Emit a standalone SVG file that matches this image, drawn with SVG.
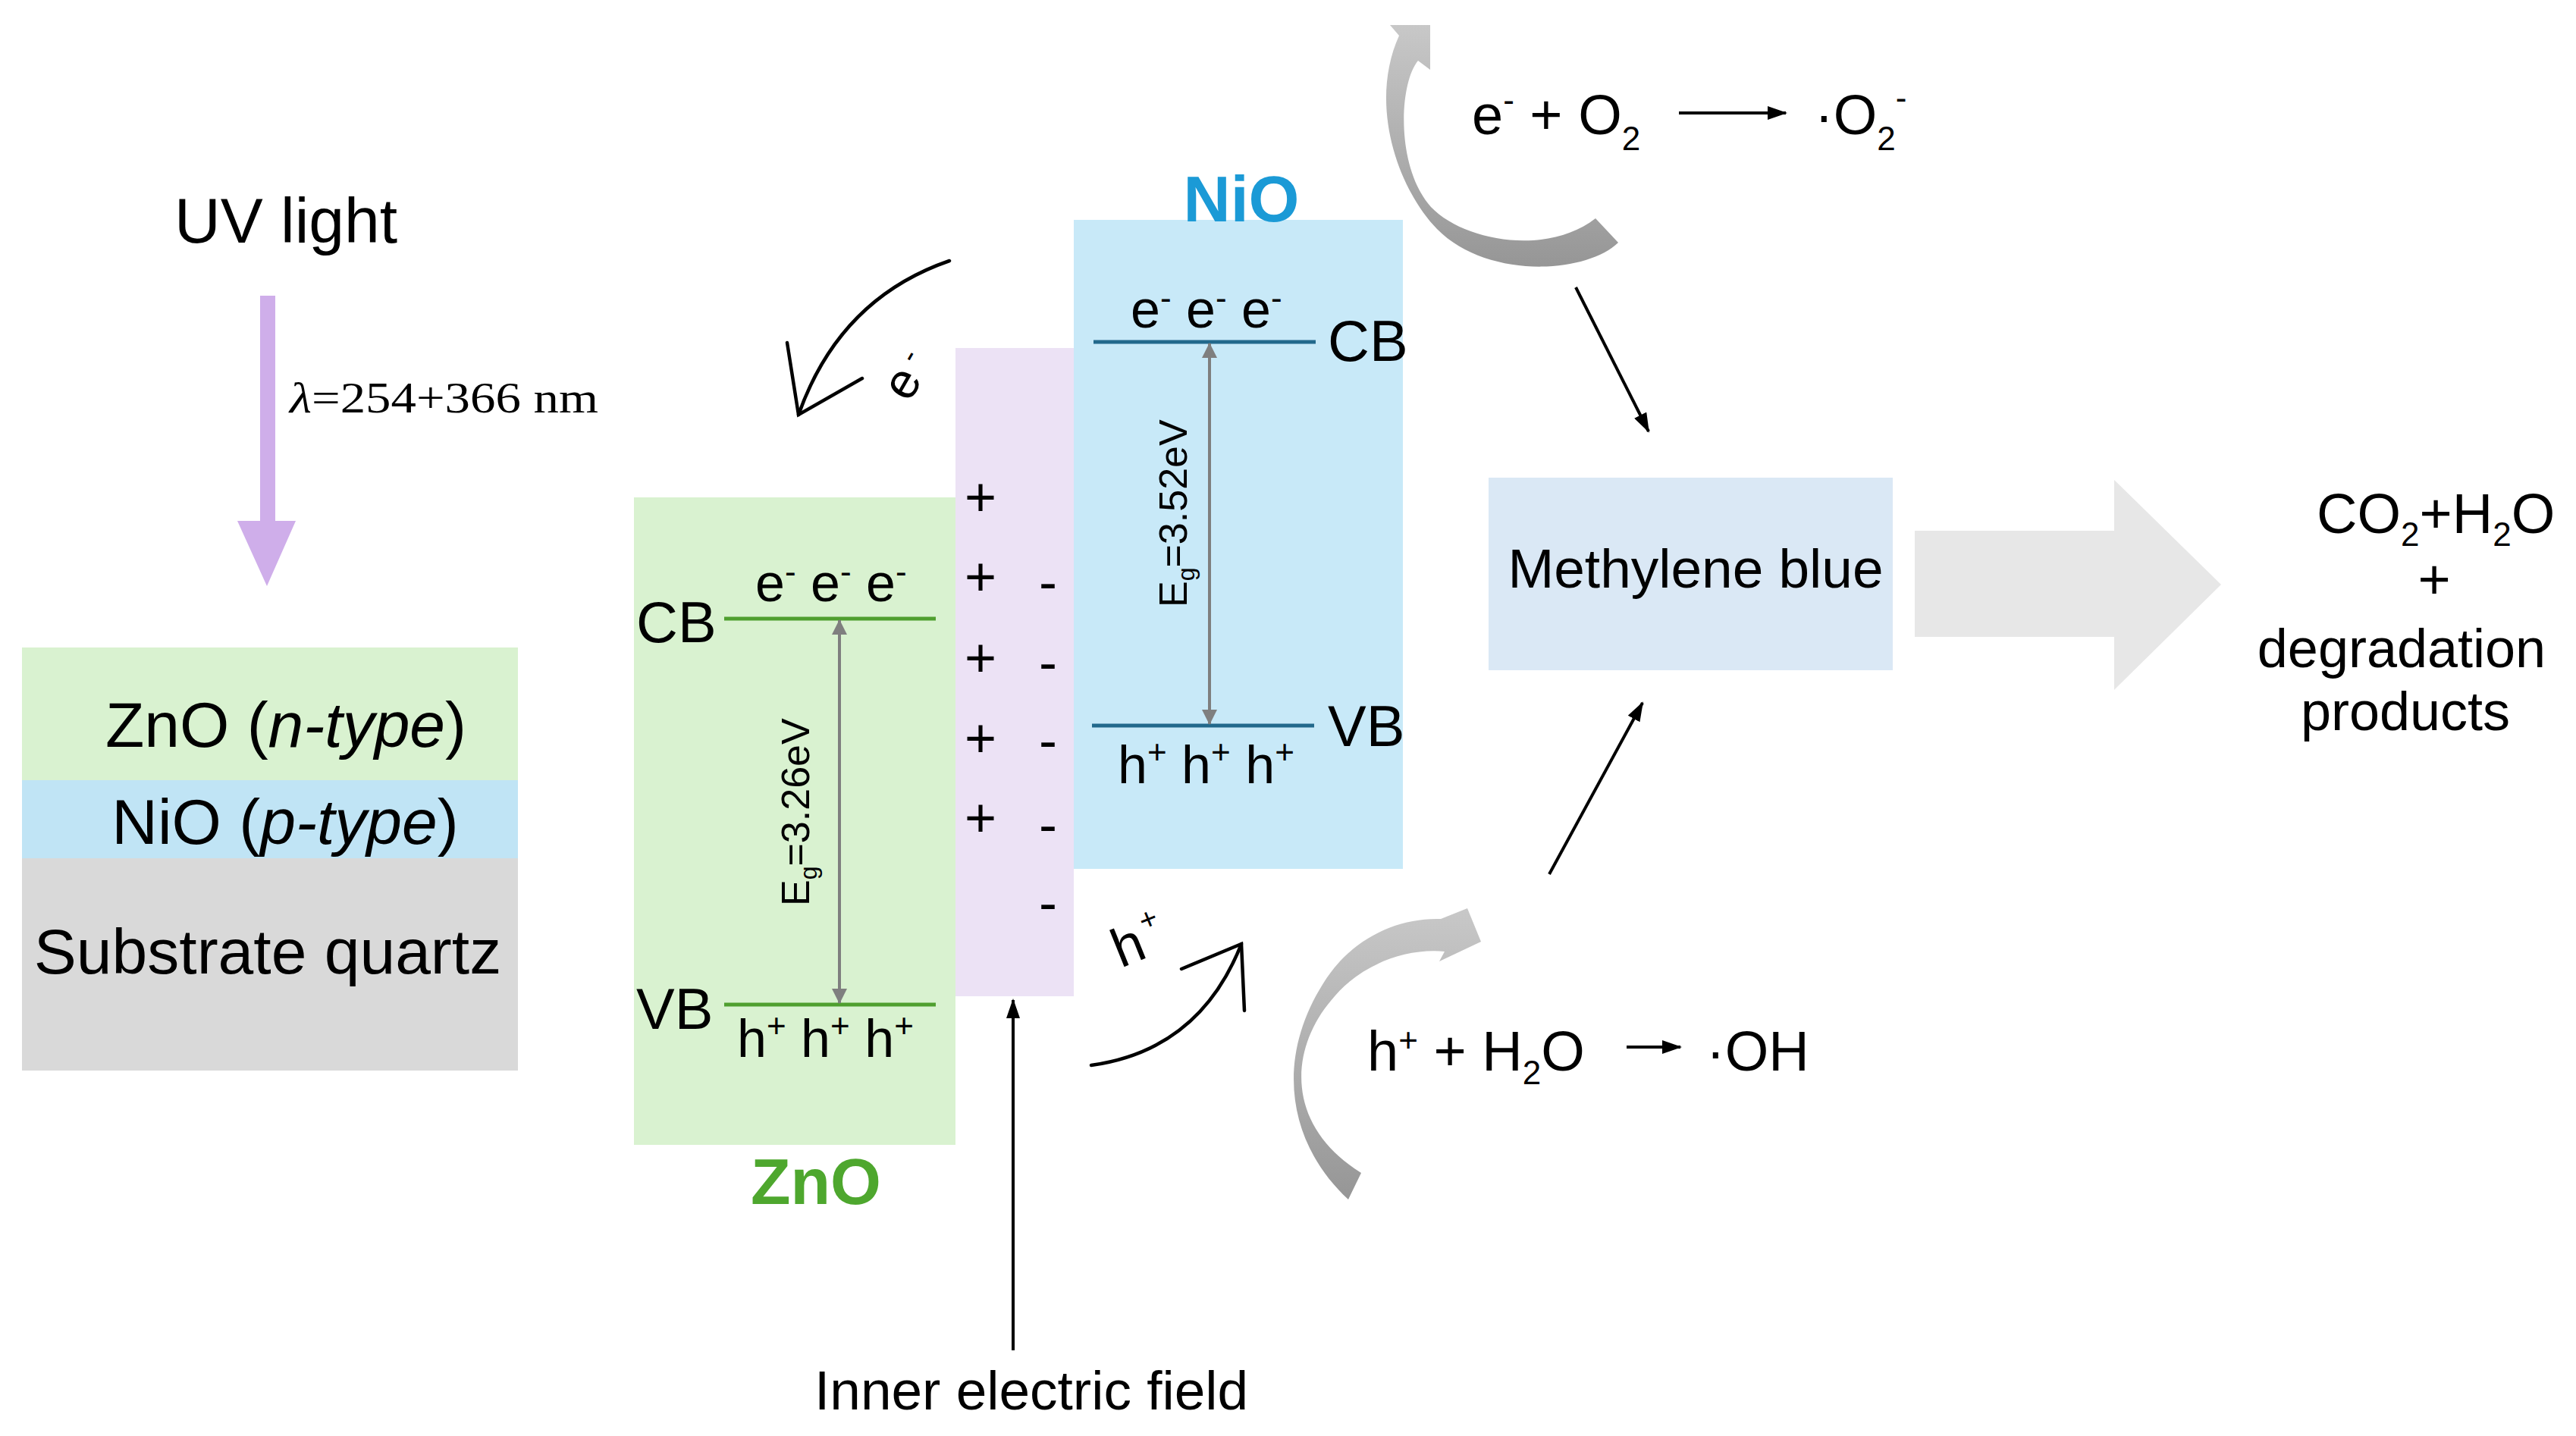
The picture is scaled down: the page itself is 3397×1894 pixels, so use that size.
<svg xmlns="http://www.w3.org/2000/svg" width="3397" height="1894" viewBox="0 0 3397 1894">
<defs>
<style>
text{font-family:"Liberation Sans",Arial,sans-serif;fill:#000}
.big{font-size:84px}
.band{font-size:76px}
.car{font-size:70px}
.sup{font-size:44px}
.sub{font-size:32px}
.eq{font-size:74px}
.eg{font-size:52px}
.pm{font-size:72px}
.lbl{font-size:86px;font-weight:bold}
.zl{fill:#4ea72e}
.nl{fill:#1b9ad6}
.serif{font-family:"Liberation Serif","Times New Roman",serif;font-size:56px}
.conn{stroke:#000;stroke-width:4;fill:none}
.curve{stroke:#000;stroke-width:4.5;fill:none;stroke-linecap:round;stroke-linejoin:miter}
.lz{stroke:#4f9f2f;stroke-width:5}
.ln{stroke:#22698c;stroke-width:5}
.gap{stroke:#7f7f7f;stroke-width:4}
</style>
<marker id="ah" markerUnits="userSpaceOnUse" viewBox="0 0 26 18" markerWidth="26" markerHeight="18" refX="24" refY="9" orient="auto"><path d="M0,0 L26,9 L0,18 z" fill="#000"/></marker>
<marker id="gh" markerUnits="userSpaceOnUse" viewBox="0 0 20 20" markerWidth="20" markerHeight="20" refX="19" refY="10" orient="auto-start-reverse"><path d="M0,0 L20,10 L0,20 z" fill="#7f7f7f"/></marker>
<linearGradient id="gg" x1="0" y1="0" x2="0" y2="1"><stop offset="0" stop-color="#c8c8c8"/><stop offset="1" stop-color="#969696"/></linearGradient>
</defs>
<rect width="3397" height="1894" fill="#fff"/>

<g id="uv-light">
<text class="big" x="230" y="320">UV light</text>
<text class="serif" x="382" y="544" textLength="407" lengthAdjust="spacingAndGlyphs"><tspan font-style="italic">λ</tspan>=254+366 nm</text>
</g>

<g id="layer-stack">
<rect x="29" y="854" width="654" height="175" fill="#d9f2d0"/>
<rect x="29" y="1029" width="654" height="103" fill="#c0e4f5"/>
<rect x="29" y="1132" width="654" height="280" fill="#d9d9d9"/>
<text class="big" x="377" y="985" text-anchor="middle">ZnO (<tspan font-style="italic">n-type</tspan>)</text>
<text class="big" x="376" y="1113" text-anchor="middle">NiO (<tspan font-style="italic">p-type</tspan>)</text>
<text class="big" x="353" y="1284" text-anchor="middle">Substrate quartz</text>
</g>

<g id="zno-band">
<rect x="836" y="656" width="424" height="854" fill="#d9f2d0"/>
<line class="lz" x1="955" y1="816" x2="1234" y2="816"/>
<line class="lz" x1="955" y1="1325" x2="1234" y2="1325"/>
<line class="gap" x1="1107" y1="818" x2="1107" y2="1323" marker-start="url(#gh)" marker-end="url(#gh)"/>
<text class="band" x="839" y="847">CB</text>
<text class="band" x="839" y="1357">VB</text>
<text class="car" x="996" y="793">e<tspan class="sup" dy="-24">-</tspan><tspan dy="24"> e</tspan><tspan class="sup" dy="-24">-</tspan><tspan dy="24"> e</tspan><tspan class="sup" dy="-24">-</tspan></text>
<text class="car" x="972" y="1394">h<tspan class="sup" dy="-26">+</tspan><tspan dy="26"> h</tspan><tspan class="sup" dy="-26">+</tspan><tspan dy="26"> h</tspan><tspan class="sup" dy="-26">+</tspan></text>
<text class="eg" transform="translate(1067,1195) rotate(-90)">E<tspan class="sub" dy="10">g</tspan><tspan dy="-10">=3.26eV</tspan></text>
</g>

<g id="junction">
<rect x="1260" y="459" width="156" height="855" fill="#ece2f5"/>
<text class="pm" x="1293" y="680" text-anchor="middle">+</text>
<text class="pm" x="1293" y="785" text-anchor="middle">+</text>
<text class="pm" x="1293" y="892" text-anchor="middle">+</text>
<text class="pm" x="1293" y="998" text-anchor="middle">+</text>
<text class="pm" x="1293" y="1103" text-anchor="middle">+</text>
<text class="pm" x="1382" y="792" text-anchor="middle">-</text>
<text class="pm" x="1382" y="898" text-anchor="middle">-</text>
<text class="pm" x="1382" y="1001" text-anchor="middle">-</text>
<text class="pm" x="1382" y="1112" text-anchor="middle">-</text>
<text class="pm" x="1382" y="1215" text-anchor="middle">-</text>
</g>

<g id="nio-band">
<rect x="1416" y="290" width="434" height="856" fill="#c8e9f8"/>
<line class="ln" x1="1442" y1="451" x2="1735" y2="451"/>
<line class="ln" x1="1440" y1="957" x2="1733" y2="957"/>
<line class="gap" x1="1595" y1="453" x2="1595" y2="955" marker-start="url(#gh)" marker-end="url(#gh)"/>
<text class="band" x="1751" y="476">CB</text>
<text class="band" x="1751" y="984">VB</text>
<text class="car" x="1491" y="432">e<tspan class="sup" dy="-24">-</tspan><tspan dy="24"> e</tspan><tspan class="sup" dy="-24">-</tspan><tspan dy="24"> e</tspan><tspan class="sup" dy="-24">-</tspan></text>
<text class="car" x="1474" y="1033">h<tspan class="sup" dy="-26">+</tspan><tspan dy="26"> h</tspan><tspan class="sup" dy="-26">+</tspan><tspan dy="26"> h</tspan><tspan class="sup" dy="-26">+</tspan></text>
<text class="eg" transform="translate(1565,801) rotate(-90)">E<tspan class="sub" dy="10">g</tspan><tspan dy="-10">=3.52eV</tspan></text>
</g>

<g id="zno-label"><text class="lbl zl" x="1076" y="1588" text-anchor="middle">ZnO</text></g>
<g id="nio-label"><text class="lbl nl" x="1637" y="292" text-anchor="middle">NiO</text></g>

<g id="electron-label"><text font-size="66" transform="translate(1199,532) rotate(-60)">e<tspan font-size="40" dx="11" dy="-19">-</tspan></text></g>
<g id="hole-label"><text font-size="72" transform="translate(1478,1277) rotate(-22)">h<tspan font-size="40" dx="6" dy="-33">+</tspan></text></g>

<g id="field-label"><text font-size="73" x="1074" y="1859">Inner electric field</text></g>

<g id="o2-reaction">
<text class="eq" x="1941" y="177">e<tspan class="sup" dy="-30">-</tspan><tspan dy="30"> + O</tspan><tspan class="sup" dy="21">2</tspan></text>
<text class="eq" x="2393" y="177">·O<tspan class="sup" dy="21">2</tspan><tspan class="sup" dy="-54">-</tspan></text>
</g>

<g id="oh-reaction">
<text class="eq" x="1803" y="1412">h<tspan class="sup" dy="-25">+</tspan><tspan dy="25"> + H</tspan><tspan class="sup" dy="18">2</tspan><tspan dy="-18">O</tspan></text>
<text class="eq" x="2250" y="1412">·OH</text>
</g>

<g id="methylene-blue">
<rect x="1963" y="630" width="533" height="254" fill="#dae8f5"/>
<text font-size="73" x="2236" y="775" text-anchor="middle">Methylene blue</text>
</g>

<g id="products">
<text class="eq" x="3055" y="703">CO<tspan class="sup" dy="17">2</tspan><tspan dy="-17">+H</tspan><tspan class="sup" dy="17">2</tspan><tspan dy="-17">O</tspan></text>
<text class="eq" x="3210" y="790" text-anchor="middle">+</text>
<text font-size="72" x="3167" y="880" text-anchor="middle">degradation</text>
<text font-size="72" x="3172" y="963" text-anchor="middle">products</text>
</g>

<g id="connectors">
<path d="M343,390 H363 V687 H390 L352,773 L313,687 H343 Z" fill="#cfaeea"/>
<line class="conn" x1="1336" y1="1781" x2="1336" y2="1319" marker-end="url(#ah)"/>
<path class="curve" d="M1252,344 Q1107,394 1053,547"/>
<polyline class="curve" points="1038,452 1053,547 1137,499"/>
<path class="curve" d="M1439,1405 Q1582,1385 1637,1245"/>
<polyline class="curve" points="1558,1278 1637,1245 1641,1333"/>
<path d="M2134,320 C2090,362 1960,368 1895,302 C1846,252 1803,140 1845,47 L1833,33 L1886,33 L1886,92 L1870,80 C1845,110 1840,220 1887,273 C1930,318 2040,338 2104,288 Z" fill="url(#gg)"/>
<path d="M1778,1582 C1700,1510 1680,1400 1745,1297 C1780,1240 1840,1210 1900,1212 L1935,1198 L1953,1242 L1898,1268 L1905,1255 C1850,1250 1790,1275 1755,1320 C1700,1385 1695,1485 1795,1547 Z" fill="url(#gg)"/>
<line class="conn" x1="2214" y1="149" x2="2355" y2="149" marker-end="url(#ah)"/>
<line class="conn" x1="2145" y1="1381" x2="2216" y2="1381" marker-end="url(#ah)"/>
<line class="conn" x1="2078" y1="379" x2="2174" y2="569" marker-end="url(#ah)"/>
<line class="conn" x1="2043" y1="1153" x2="2166" y2="927" marker-end="url(#ah)"/>
<path d="M2525,700 H2788 V633 L2929,771 L2788,910 V840 H2525 Z" fill="#e7e7e7"/>
</g>
</svg>
